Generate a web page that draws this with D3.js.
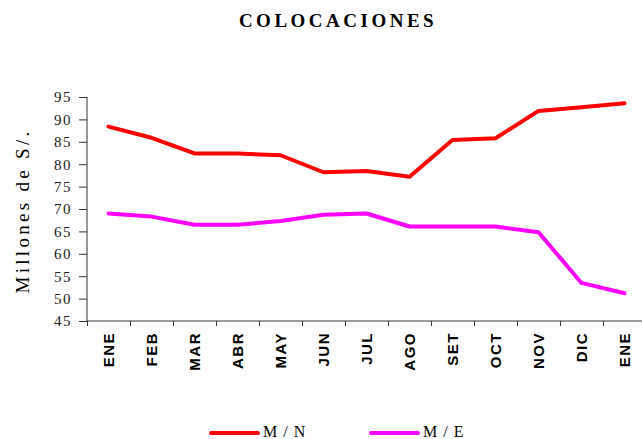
<!DOCTYPE html>
<html>
<head>
<meta charset="utf-8">
<script src="https://cdn.jsdelivr.net/npm/d3@7"></script>
<style>
  body { margin: 0; background: #fff; }
  svg { display: block; }
</style>
</head>
<body>
<div id="chart"></div>
<script>
var months = ["ENE", "FEB", "MAR", "ABR", "MAY", "JUN", "JUL", "AGO", "SET", "OCT", "NOV", "DIC", "ENE"];
var mn = [88.4, 85.9, 82.4, 82.4, 82.0, 78.2, 78.5, 77.2, 85.4, 85.8, 91.9, 92.7, 93.6];
var me = [69.0, 68.3, 66.5, 66.5, 67.3, 68.7, 69.0, 66.1, 66.1, 66.1, 64.8, 53.5, 51.2];
var yTicks = [45, 50, 55, 60, 65, 70, 75, 80, 85, 90, 95];

(function() {
  var width = 642, height = 439;
  var left = 87, right = 646, top = 97, bottom = 321;

  var svg = d3.select("#chart").append("svg")
              .attr("width", width)
              .attr("height", height);

  var x = d3.scaleLinear().domain([0, months.length]).range([left, right]);
  var y = d3.scaleLinear().domain([45, 95]).range([bottom, top]);

  // titulo
  svg.append("text")
     .attr("x", 338).attr("y", 27)
     .attr("text-anchor", "middle")
     .style("font-family", "'Liberation Serif', 'DejaVu Serif', serif")
     .style("font-weight", "bold")
     .style("font-size", "19px")
     .style("letter-spacing", "3.5px")
     .text("COLOCACIONES");

  // eje y
  var yAxis = svg.append("g")
     .attr("transform", "translate(" + left + ",0)")
     .call(d3.axisLeft(y).tickValues(yTicks).tickSize(8).tickPadding(7));
  yAxis.selectAll("text")
     .style("font-family", "'Liberation Serif', serif")
     .style("font-size", "15px")
     .style("letter-spacing", "1.5px")
     .attr("fill", "#222");
  yAxis.select(".domain").attr("d", "M0," + top + "V" + bottom).attr("stroke", "#333");
  yAxis.selectAll(".tick line").attr("stroke", "#333");

  // eje x
  var xAxis = svg.append("g")
     .attr("transform", "translate(0," + bottom + ")")
     .call(d3.axisBottom(x).tickValues(d3.range(0, months.length + 1)).tickSize(5).tickFormat(""));
  xAxis.select(".domain").attr("d", "M" + left + ",0H" + right).attr("stroke", "#333");
  xAxis.selectAll(".tick line").attr("stroke", "#333");

  svg.selectAll(".mes")
     .data(months)
     .enter().append("text")
     .attr("class", "mes")
     .attr("transform", function(d, i) {
       return "translate(" + x(i + 0.5) + "," + 332 + ") rotate(-90)";
     })
     .attr("dy", "0.36em")
     .attr("text-anchor", "end")
     .style("font-family", "'Liberation Sans', Arial, sans-serif")
     .style("font-size", "15px")
     .style("font-weight", "bold")
     .style("letter-spacing", "1.5px")
     .text(function(d) { return d; });

  // titulo eje y
  svg.append("text")
     .attr("transform", "translate(29,211) rotate(-90)")
     .attr("text-anchor", "middle")
     .style("font-family", "'Liberation Serif', serif")
     .style("font-size", "19px")
     .style("letter-spacing", "3.3px")
     .text("Millones de S/.");

  var line = d3.line()
     .x(function(d, i) { return x(i + 0.5); })
     .y(function(d) { return y(d); });

  svg.append("path").datum(mn)
     .attr("d", line)
     .attr("fill", "none")
     .attr("stroke", "#ff0000")
     .attr("stroke-width", 4)
     .attr("stroke-linecap", "round")
     .attr("stroke-linejoin", "round");

  svg.append("path").datum(me)
     .attr("d", line)
     .attr("fill", "none")
     .attr("stroke", "#ff00ff")
     .attr("stroke-width", 4)
     .attr("stroke-linecap", "round")
     .attr("stroke-linejoin", "round");

  // leyenda
  var legend = [
    {name: "M / N", color: "#ff0000", x: 211},
    {name: "M / E", color: "#ff00ff", x: 371}
  ];
  var lg = svg.selectAll(".leg").data(legend).enter().append("g")
     .attr("transform", function(d) { return "translate(" + d.x + ",433)"; });
  lg.append("line")
     .attr("x1", 0).attr("x2", 47)
     .attr("stroke", function(d) { return d.color; })
     .attr("stroke-width", 4)
     .attr("stroke-linecap", "round");
  lg.append("text")
     .attr("x", 52).attr("y", 4)
     .style("font-family", "'Liberation Serif', serif")
     .style("font-size", "16px")
     .style("letter-spacing", "1px")
     .text(function(d) { return d.name; });
})();
</script>
</body>
</html>
